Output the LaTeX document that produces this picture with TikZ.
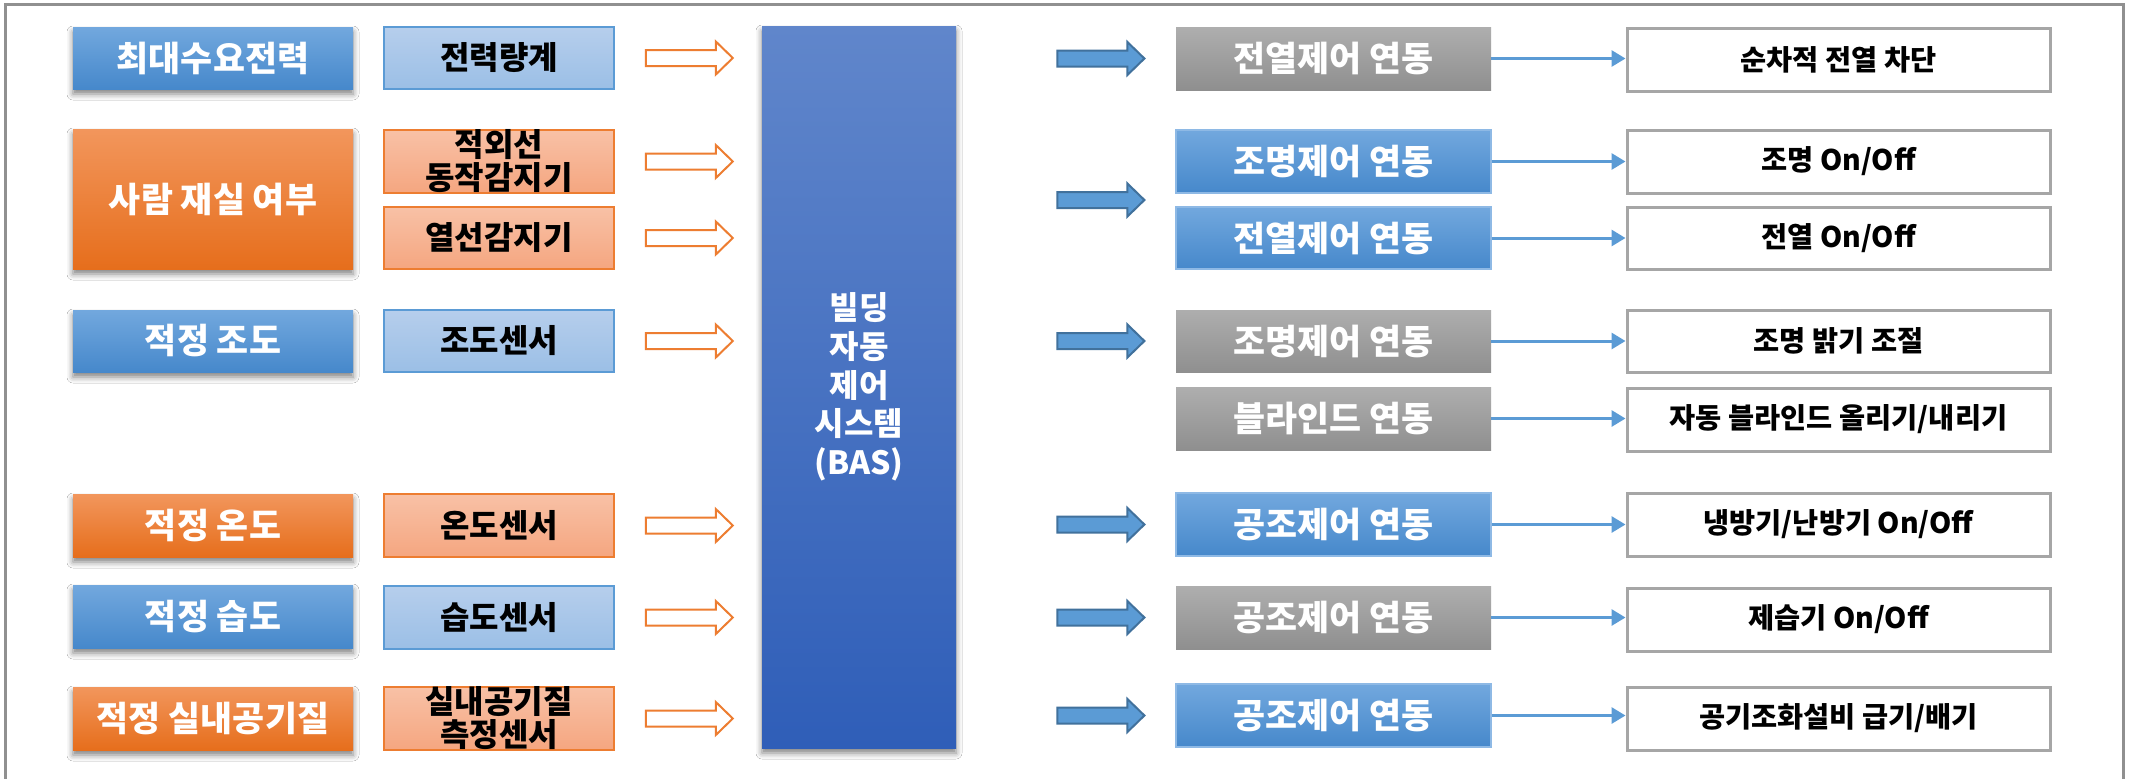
\documentclass[tikz,border=0pt]{standalone}
\usepackage{fontspec}
\setmainfont{Noto Sans CJK KR}
\usetikzlibrary{shadows.blur,arrows.meta,calc}
\definecolor{lbA}{RGB}{114,168,222}
\definecolor{lbB}{RGB}{70,136,203}
\definecolor{loA}{RGB}{242,150,92}
\definecolor{loB}{RGB}{230,110,28}
\definecolor{sbA}{RGB}{182,206,236}
\definecolor{sbB}{RGB}{155,191,230}
\definecolor{sbD}{RGB}{91,155,213}
\definecolor{soA}{RGB}{248,193,166}
\definecolor{soB}{RGB}{245,166,128}
\definecolor{soD}{RGB}{237,125,49}
\definecolor{gyA}{RGB}{174,174,174}
\definecolor{gyB}{RGB}{143,143,143}
\definecolor{basA}{RGB}{96,134,203}
\definecolor{basB}{RGB}{47,94,184}
\definecolor{arrD}{RGB}{65,113,156}
\definecolor{resD}{RGB}{166,166,166}
\definecolor{frameC}{RGB}{144,144,144}
\tikzset{
  x=0.5pt, y=-0.5pt,
  base/.style={rectangle, inner sep=0pt, align=center},
  shad/.style={blur shadow={shadow xshift=0pt, shadow yshift=-2.5pt, shadow blur radius=3pt, shadow opacity=50}},
  leftblue/.style={base, shad, top color=lbA, bottom color=lbB, text=white, font=\bfseries\fontsize{17.4}{20}\selectfont},
  leftorange/.style={base, shad, top color=loA, bottom color=loB, text=white, font=\bfseries\fontsize{17.4}{20}\selectfont},
  sensblue/.style={base, top color=sbA, bottom color=sbB, draw=sbD, line width=0.8pt, text=black, font=\bfseries\fontsize{16}{16.5}\selectfont},
  sensorange/.style={base, top color=soA, bottom color=soB, draw=soD, line width=0.8pt, text=black, font=\bfseries\fontsize{16}{16.5}\selectfont},
  ctlgray/.style={base, top color=gyA, bottom color=gyB, text=white, font=\bfseries\fontsize{17.4}{20}\selectfont},
  ctlblue/.style={base, top color=lbA, bottom color=lbB, draw=lbA!80!white, line width=0.6pt, text=white, font=\bfseries\fontsize{17.4}{20}\selectfont},
  result/.style={base, fill=white, draw=resD, line width=1.5pt, text=black, font=\bfseries\fontsize{14.2}{16}\selectfont},
  basbox/.style={base, shad, top color=basA, bottom color=basB, text=white, font=\bfseries\fontsize{16}{19.35}\selectfont},
  hollowarr/.style={draw=soD, fill=white, line width=1pt},
  solidarr/.style={draw=arrD, fill=sbD, line width=1pt},
  thinarr/.style={draw=sbD, line width=1.5pt, -{Triangle[length=7pt,width=8pt]}},
  frameline/.style={draw=frameC, line width=1.5pt},
  blkarrow/.pic={\path[pic actions] (0,-8) -- (70,-8) -- (70,-16.5) -- (87,0) -- (70,16.5) -- (70,8) -- (0,8) -- cycle;}
}
\newcommand\boxnode[7]{%
  \node[#2, minimum width={(#5-#3)*0.5pt}, minimum height={(#6-#4)*0.5pt}] (#1) at ({(#3+#5)/2},{(#4+#6)/2}) {#7};}
\begin{document}
\begin{tikzpicture}
\useasboundingbox (0,0) rectangle (2130,778);
\fill[white] (0,0) rectangle (2130,778);
\draw[frameline] (5,800) -- (5,4) -- (2123,4) -- (2123,800);
% left column
\boxnode{l1}{leftblue}{73}{27}{353}{89}{최대수요전력}
\boxnode{l2}{leftorange}{73}{129}{353}{269}{사람 재실 여부}
\boxnode{l3}{leftblue}{73}{310}{353}{372}{적정 조도}
\boxnode{l4}{leftorange}{73}{494}{353}{557}{적정 온도}
\boxnode{l5}{leftblue}{73}{585}{353}{648}{적정 습도}
\boxnode{l6}{leftorange}{73}{687}{353}{750}{적정 실내공기질}
% sensors
\boxnode{s1}{sensblue}{384}{27}{614}{89}{전력량계}
\boxnode{s2}{sensorange}{384}{130}{614}{193}{적외선\\동작감지기}
\boxnode{s3}{sensorange}{384}{207}{614}{269}{열선감지기}
\boxnode{s4}{sensblue}{384}{310}{614}{372}{조도센서}
\boxnode{s5}{sensorange}{384}{494}{614}{557}{온도센서}
\boxnode{s6}{sensblue}{384}{586}{614}{649}{습도센서}
\boxnode{s7}{sensorange}{384}{687}{614}{750}{실내공기질\\측정센서}
% BAS
\boxnode{bas}{basbox}{762}{26}{956}{748}{빌딩\\자동\\제어\\시스템\\(BAS)}
% controls
\boxnode{c1}{ctlgray}{1176}{27}{1491}{90}{전열제어 연동}
\boxnode{c2}{ctlblue}{1176}{130}{1491}{193}{조명제어 연동}
\boxnode{c3}{ctlblue}{1176}{207}{1491}{269}{전열제어 연동}
\boxnode{c4}{ctlgray}{1176}{310}{1491}{372}{조명제어 연동}
\boxnode{c5}{ctlgray}{1176}{387}{1491}{450}{블라인드 연동}
\boxnode{c6}{ctlblue}{1176}{493}{1491}{556}{공조제어 연동}
\boxnode{c7}{ctlgray}{1176}{586}{1491}{649}{공조제어 연동}
\boxnode{c8}{ctlblue}{1176}{684}{1491}{747}{공조제어 연동}
% results
\boxnode{r1}{result}{1627}{28}{2050}{91}{순차적 전열 차단}
\boxnode{r2}{result}{1627}{130}{2050}{193}{조명 On/Off}
\boxnode{r3}{result}{1627}{207}{2050}{269}{전열 On/Off}
\boxnode{r4}{result}{1627}{310}{2050}{372}{조명 밝기 조절}
\boxnode{r5}{result}{1627}{388}{2050}{451}{자동 블라인드 올리기/내리기}
\boxnode{r6}{result}{1627}{493}{2050}{556}{냉방기/난방기 On/Off}
\boxnode{r7}{result}{1627}{588}{2050}{651}{제습기 On/Off}
\boxnode{r8}{result}{1627}{687}{2050}{750}{공기조화설비 급기/배기}
% hollow arrows sensor -> BAS
\foreach \s in {s1,s2,s3,s4,s5,s6,s7}
  \pic[hollowarr] at ($(\s.east)+(31,0)$) {blkarrow};
% solid arrows BAS -> controls
\coordinate (m23) at ($(c2.south)!0.5!(c3.north)$);
\foreach \c in {c1,m23,c4,c6,c7,c8}
  \pic[solidarr] at ($(bas.east |- \c)+(101,0)$) {blkarrow};
% thin arrows controls -> results
\foreach \i in {1,...,8}
  \draw[thinarr] (c\i.east) -- (c\i.east -| r\i.west);
\end{tikzpicture}
\end{document}
